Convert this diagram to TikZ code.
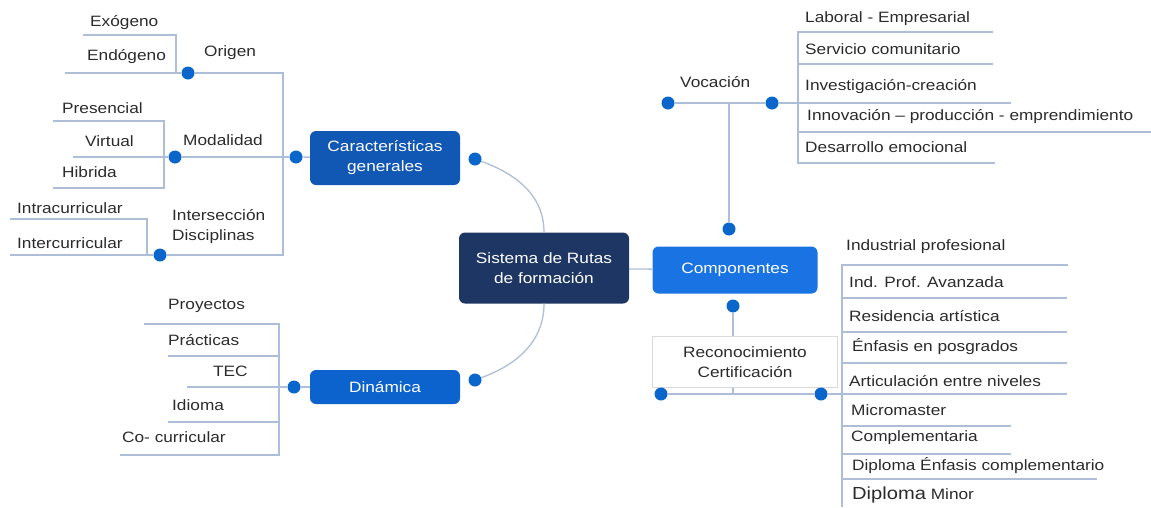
\documentclass[tikz,border=0pt]{standalone}
\usepackage{fontspec}
\setmainfont{Liberation Sans}[FakeStretch=1.15]
\usepackage{tikz}

\definecolor{lncol}{HTML}{AEBDD8}
\definecolor{dotcol}{HTML}{0B66CC}
\definecolor{navy}{HTML}{1D3663}
\definecolor{bluea}{HTML}{1157B4}
\definecolor{blueb}{HTML}{0D63CD}
\definecolor{bluec}{HTML}{1A73E3}
\definecolor{txtcol}{HTML}{2B2B2B}

\tikzset{
  ln/.style={draw=lncol, line width=1.3pt},
  dot/.style={circle, fill=dotcol, inner sep=0pt, minimum size=13pt},
  lbl/.style={text=txtcol, font=\fontsize{15}{20}\selectfont, inner sep=0pt, anchor=west, align=left},
  bx/.style={rounded corners=6pt, text=white, align=center, font=\fontsize{15}{20}\selectfont, inner sep=0pt},
}

\begin{document}
\begin{tikzpicture}[x=1pt,y=-1pt]
\useasboundingbox (0,0) rectangle (1151,507);
%boxes
\node[bx, fill=navy, minimum width=170pt, minimum height=71pt] (sis) at (544,268) {Sistema de Rutas\\de formación};
\node[bx, fill=bluea, minimum width=150pt, minimum height=54pt] (car) at (385,158) {Características\\generales};
\node[bx, fill=blueb, minimum width=150pt, minimum height=34pt] (din) at (385,387) {Dinámica};
\node[bx, fill=bluec, minimum width=165pt, minimum height=47pt] (comp) at (735,270) {Componentes};
\node[draw=black!15, fill=white, text=txtcol, align=center, font=\fontsize{15}{20}\selectfont, inner sep=0pt,
  minimum width=185pt, minimum height=51pt] (rec) at (745,362) {Reconocimiento\\Certificación};
%dots
\node[dot] (car-r) at (475,159) {};
\node[dot] (car-l) at (296,157) {};
\node[dot] (din-r) at (475,380) {};
\node[dot] (din-l) at (294,387) {};
\node[dot] (comp-t) at (729,229) {};
\node[dot] (comp-b) at (733,306) {};
\node[dot] (voc-l) at (668,103) {};
\node[dot] (voc-r) at (772,103) {};
\node[dot] (rec-l) at (661,394) {};
\node[dot] (rec-r) at (821,394) {};
\node[dot] (ori) at (188,73) {};
\node[dot] (mod) at (175,157) {};
\node[dot] (int) at (160,255) {};
\coordinate (cg-top) at (283,73);
\coordinate (cg-bot) at (283,255);
\coordinate (voc-j) at (729,103);
\coordinate (voc-end) at (1011,103);
\coordinate (rec-j) at (733,394);
\coordinate (rec-end) at (1067,394);
%main branches
\draw[ln] (car-r) to[out=-20,in=90] (sis.north);
\draw[ln] (sis.south) to[out=-90,in=20] (din-r);
\draw[ln] (sis) -- (comp);
\draw[ln] (car-l) -- (car);
\draw[ln] (din-l) -- (din);
%caracteristicas generales
\draw[ln] (ori) -- (cg-top) -- (cg-bot) -- (int);
\draw[ln] (mod) -- (car-l);
\draw[ln] (83,35) -| (176,73);
\draw[ln] (65,73) -- (ori);
\draw[ln] (53,121) -| (164,188) -- (53,188);
\draw[ln] (73,157) -- (mod);
\draw[ln] (10,219) -| (147,255);
\draw[ln] (10,255) -- (int);
\node[lbl] (exo) at (90,23) {Exógeno};
\node[lbl] (endo) at (87,57) {Endógeno};
\node[lbl] (origen) at (204,53) {Origen};
\node[lbl] (pres) at (62,108) {Presencial};
\node[lbl] (virt) at (85,141) {Virtual};
\node[lbl] (modal) at (183,140) {Modalidad};
\node[lbl] (hib) at (62,172) {Hibrida};
\node[lbl] (intra) at (17,208) {Intracurricular};
\node[lbl] (inter) at (17,243) {Intercurricular};
\node[lbl] (interdis) at (172,227) {Intersección\\Disciplinas};
%dinamica
\draw[ln] (144,324) -| (279,455) -- (120,455);
\draw[ln] (168,356) -- (279,356);
\draw[ln] (168,422) -- (279,422);
\draw[ln] (187,387) -- (din-l);
\node[lbl] (proy) at (168,306) {Proyectos};
\node[lbl] (prac) at (168,340) {Prácticas};
\node[lbl] (tec) at (213,371) {TEC};
\node[lbl] (idi) at (172,405) {Idioma};
\node[lbl] (cocu) at (122,437) {Co- curricular};
%vocacion
\draw[ln] (voc-l) -- (voc-r) -- (voc-end);
\draw[ln] (voc-j) -- (comp-t);
\draw[ln] (993,32) -| (798,163) -- (995,163);
\draw[ln] (798,64) -- (993,64);
\draw[ln] (798,132) -- (1151,132);
\node[lbl] (voc) at (680,82) {Vocación};
\node[lbl] (lab) at (805,19) {Laboral - Empresarial};
\node[lbl] (serv) at (805,49) {Servicio comunitario};
\node[lbl] (inv) at (805,87) {Investigación-creación};
\node[lbl] (innov) at (807,117) {Innovación -- producción - emprendimiento};
\node[lbl] (desa) at (805,147) {Desarrollo emocional};
%reconocimiento
\draw[ln] (comp-b) -- (comp-b |- rec.north);
\draw[ln] (rec-l) -- (rec-r) -- (rec-end);
\draw[ln] (rec-j |- rec.south) -- (rec-j);
\draw[ln] (1068,265) -- (842,265) -- (842,507);
\draw[ln] (842,298) -- (1067,298);
\draw[ln] (842,332) -- (1067,332);
\draw[ln] (842,363) -- (1067,363);
\draw[ln] (842,426) -- (1011,426);
\draw[ln] (842,454) -- (1011,454);
\draw[ln] (842,479) -- (1097,479);
\node[lbl] (indp) at (846,247) {Industrial profesional};
\node[lbl] (inda) at (849,282) {Ind. Prof. Avanzada};
\node[lbl] (resi) at (849,316) {Residencia artística};
\node[lbl] (enf) at (852,347) {Énfasis en posgrados};
\node[lbl] (arti) at (849,381) {Articulación entre niveles};
\node[lbl] (micro) at (851,410) {Micromaster};
\node[lbl] (compl) at (851,438) {Complementaria};
\node[lbl] (dipe) at (852,466) {Diploma Énfasis complementario};
\node[lbl] (dipm) at (852,495) {{\fontsize{17.5}{20}\selectfont Diploma} Minor};
\end{tikzpicture}
\end{document}
